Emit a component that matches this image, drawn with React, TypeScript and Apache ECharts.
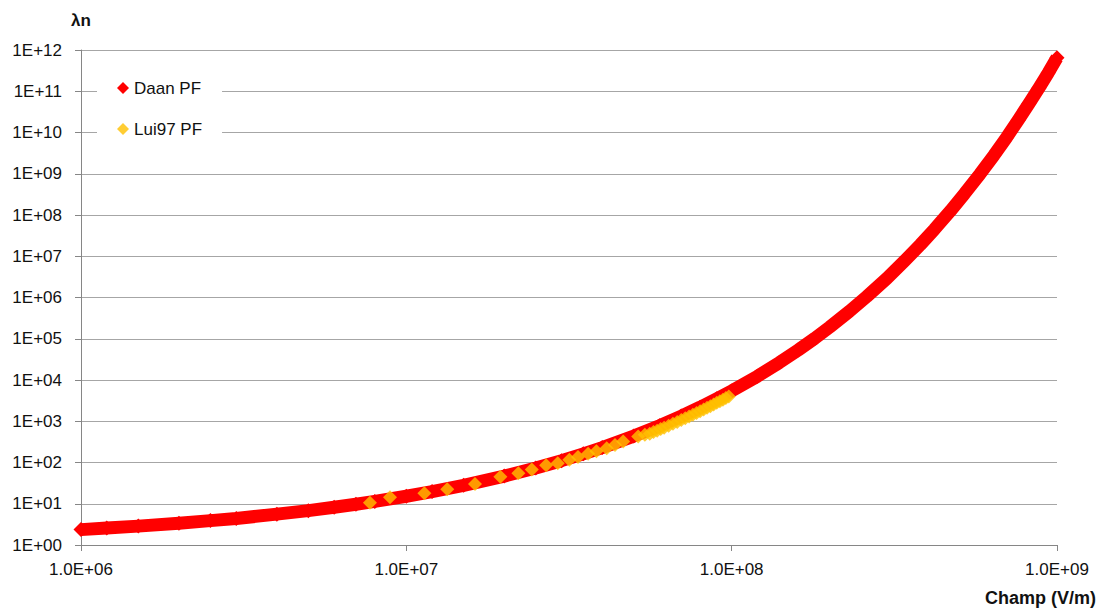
import React, { useEffect, useRef } from "react";
import * as echarts from "echarts";

// Daan PF (field in V/m, λn)
const daanField = [
  1e6, 1.2e6, 1.5e6, 2e6, 2.5e6, 3e6, 4e6, 5e6, 6e6, 7e6, 8e6,
  1e7, 1.2e7, 1.5e7, 2e7, 2.5e7, 3e7, 3.5e7, 4e7, 5e7, 6e7, 7e7, 8e7, 9e7,
  1e8, 1.2e8, 1.4e8, 1.6e8, 1.8e8, 2e8, 2.3e8, 2.6e8, 3e8, 3.4e8, 3.8e8,
  4.2e8, 4.7e8, 5.2e8, 5.8e8, 6.4e8, 7e8, 7.6e8, 8.2e8, 8.8e8, 9.4e8, 1e9,
];
const daanLambda = [
  2.36, 2.57, 2.87, 3.37, 3.9, 4.4, 5.6, 6.8, 8.2, 9.7, 11.4,
  15.2, 19.7, 28, 46.8, 73.7, 111, 162, 230, 437, 782, 1333, 2190, 3494,
  5430, 1.23e4, 2.63e4, 5.3e4, 1.02e5, 1.91e5, 4.6e5, 1.05e6, 2.9e6, 7.7e6, 1.9e7,
  4.5e7, 1.25e8, 3.3e8, 9.9e8, 2.8e9, 7.6e9, 2.0e10, 5.0e10, 1.2e11, 2.8e11, 6.5e11,
];

// Lui97 PF
const luiField = [
  7.73e6, 8.91e6, 1.136e7, 1.336e7, 1.626e7, 1.946e7, 2.21e7, 2.43e7, 2.69e7,
  2.92e7, 3.17e7, 3.37e7, 3.62e7, 3.84e7, 4.13e7, 4.38e7, 4.64e7, 5.16e7, 5.41e7,
  5.6e7, 5.75e7, 5.9e7, 6.05e7, 6.2e7, 6.4e7, 6.6e7, 6.8e7, 7.0e7, 7.2e7, 7.4e7,
  7.6e7, 7.8e7, 8.0e7, 8.2e7, 8.4e7, 8.6e7, 8.8e7, 9.0e7, 9.2e7, 9.4e7, 9.6e7, 9.8e7,
];
const luiLambda = [
  10.6, 14.4, 18.0, 22.5, 30, 45, 55, 68, 86,
  96, 116, 135, 162, 188, 222, 267, 321, 425, 470,
  500, 545, 590, 645, 700, 780, 865, 960, 1070, 1180, 1310,
  1440, 1590, 1750, 1930, 2120, 2320, 2550, 2800, 3060, 3340, 3650, 3980,
];

const seriesNames = ["Daan PF", "Lui97 PF"];
const yTickLabels = [
  "1E+00", "1E+01", "1E+02", "1E+03", "1E+04", "1E+05", "1E+06",
  "1E+07", "1E+08", "1E+09", "1E+10", "1E+11", "1E+12",
];
const xTickLabels = ["1.0E+06", "1.0E+07", "1.0E+08", "1.0E+09"];
const yAxisTitle = "λn";
const xAxisTitle = "Champ (V/m)";

const FONT = "'Liberation Sans', Arial, sans-serif";

export default function App() {
  const ref = useRef<HTMLDivElement>(null);

  useEffect(() => {
    if (!ref.current) return;
    const chart = echarts.init(ref.current, null, { renderer: "svg" });
    const daan = daanField.map((x, i) => [x, daanLambda[i]]);
    const lui = luiField.map((x, i) => [x, luiLambda[i]]);
    const expOf = (v: number) => Math.round(Math.log10(v));

    chart.setOption({
      animation: false,
      backgroundColor: "#ffffff",
      textStyle: { fontFamily: FONT },
      grid: { left: 81, right: 47, top: 50, bottom: 70, containLabel: false },
      legend: {
        orient: "vertical",
        left: 97,
        top: 68,
        padding: [10, 20, 10, 20],
        backgroundColor: "#ffffff",
        icon: "diamond",
        itemWidth: 12,
        itemHeight: 12,
        itemGap: 21,
        data: seriesNames,
        textStyle: { fontSize: 17, color: "#111", fontFamily: FONT, lineHeight: 20 },
      },
      xAxis: {
        type: "log",
        logBase: 10,
        min: 1e6,
        max: 1e9,
        interval: 1,
        splitLine: { show: false },
        axisLine: { show: true, lineStyle: { color: "#868686", width: 1 } },
        axisTick: { show: true, inside: false, length: 6, lineStyle: { color: "#868686" } },
        minorTick: { show: false },
        axisLabel: {
          margin: 16,
          fontSize: 17,
          color: "#111",
          fontFamily: FONT,
          formatter: (v: number) => xTickLabels[expOf(v) - 6] ?? "",
        },
      },
      yAxis: {
        type: "log",
        logBase: 10,
        min: 1,
        max: 1e12,
        interval: 1,
        splitLine: { show: true, lineStyle: { color: "#A6A6A6", width: 1 } },
        axisLine: { show: true, lineStyle: { color: "#868686", width: 1 } },
        axisTick: { show: true, inside: false, length: 6, lineStyle: { color: "#868686" } },
        axisLabel: {
          margin: 19,
          fontSize: 17,
          color: "#111",
          fontFamily: FONT,
          formatter: (v: number) => yTickLabels[expOf(v)] ?? "",
        },
      },
      graphic: [
        {
          type: "text",
          left: 71,
          top: 12,
          style: {
            text: yAxisTitle,
            font: `bold 17px ${FONT}`,
            fill: "#111",
          },
        },
        {
          type: "text",
          right: 8,
          top: 589,
          style: {
            text: xAxisTitle,
            font: `bold 18px ${FONT}`,
            fill: "#111",
          },
        },
      ],
      series: [
        {
          name: seriesNames[0],
          type: "line",
          data: daan,
          symbol: "diamond",
          symbolSize: 15,
          showAllSymbol: true,
          itemStyle: { color: "#FF0000" },
          lineStyle: { color: "#FF0000", width: 13, join: "round" },
          z: 2,
        },
        {
          name: seriesNames[1],
          type: "scatter",
          data: lui,
          symbol: "diamond",
          symbolSize: 14,
          itemStyle: { color: "#FFC000" },
          z: 3,
        },
      ],
    });

    return () => chart.dispose();
  }, []);

  return (
    <div
      ref={ref}
      style={{ position: "absolute", left: 0, top: 0, width: 1104, height: 615 }}
    />
  );
}
